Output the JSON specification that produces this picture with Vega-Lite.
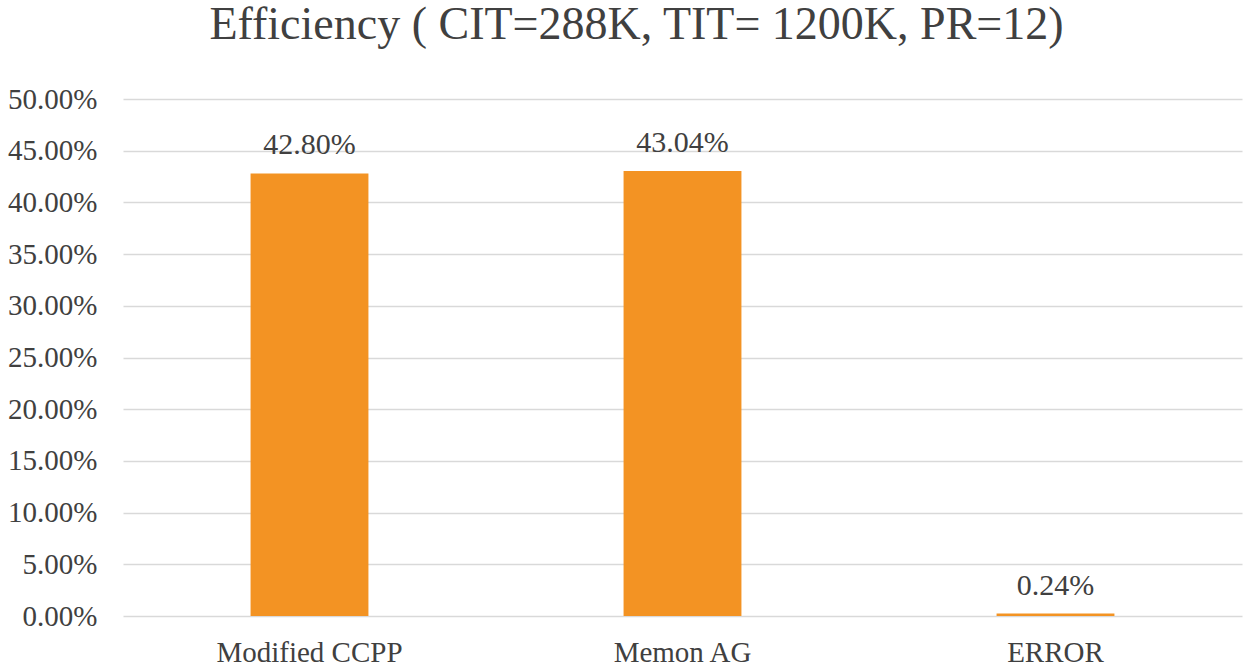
{
  "$schema": "https://vega.github.io/schema/vega-lite/v6.json",
  "autosize": "none",
  "width": 1119,
  "height": 517,
  "padding": {"left": 123, "top": 99, "right": 8, "bottom": 52},
  "background": "white",
  "title": {
    "text": "Efficiency ( CIT=288K, TIT= 1200K, PR=12)",
    "font": "Liberation Serif",
    "fontSize": 46,
    "fontWeight": "normal",
    "color": "#404040",
    "frame": "group",
    "offset": 36,
    "dx": -46,
    "anchor": "middle"
  },
  "data": {
    "values": [
      {"category": "Modified CCPP", "value": 0.428},
      {"category": "Memon AG", "value": 0.4304},
      {"category": "ERROR", "value": 0.0024}
    ]
  },
  "encoding": {
    "x": {
      "field": "category",
      "type": "nominal",
      "sort": null,
      "scale": {"paddingInner": 0.684, "paddingOuter": 0.342},
      "axis": {
        "title": null,
        "labelAngle": 0,
        "ticks": false,
        "domain": false,
        "labelLimit": 0,
        "labelFont": "Liberation Serif",
        "labelFontSize": 29,
        "labelColor": "#404040",
        "labelPadding": 22
      }
    },
    "y": {
      "field": "value",
      "type": "quantitative",
      "scale": {"domain": [0, 0.5]},
      "axis": {
        "title": null,
        "format": ".2%",
        "values": [0, 0.05, 0.1, 0.15, 0.2, 0.25, 0.3, 0.35, 0.4, 0.45, 0.5],
        "ticks": false,
        "domain": false,
        "labelFont": "Liberation Serif",
        "labelFontSize": 29,
        "labelColor": "#404040",
        "labelPadding": 26,
        "grid": true,
        "gridColor": "#d9d9d9",
        "gridWidth": 1.5
      }
    }
  },
  "layer": [
    {"mark": {"type": "bar", "color": "#F39323"}},
    {
      "mark": {
        "type": "text",
        "font": "Liberation Serif",
        "fontSize": 30,
        "color": "#404040",
        "baseline": "alphabetic",
        "dy": -19
      },
      "encoding": {
        "text": {"field": "value", "type": "quantitative", "format": ".2%"}
      }
    }
  ],
  "config": {"view": {"stroke": null}}
}
